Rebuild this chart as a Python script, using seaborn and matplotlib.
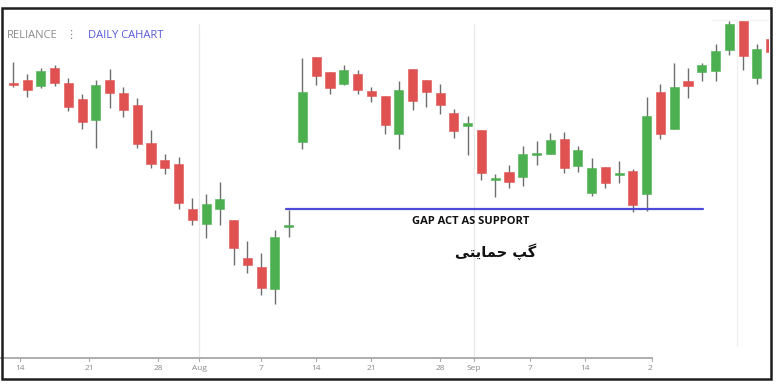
import numpy as np
import matplotlib
matplotlib.use("Agg")
import matplotlib.pyplot as plt
from matplotlib.patches import Rectangle
import seaborn as sns

# daily candles (price levels, arbitrary units)
opens = [317, 320, 314, 332, 317, 301, 280, 320, 307, 295,
         257, 240, 236, 191, 176, 191, 180, 142, 133, 111,
         173, 258, 343, 328, 316, 326, 309, 304, 266, 331,
         320, 307, 287, 274, 270, 220, 228, 223, 245, 246,
         261, 234, 207, 233, 225, 229, 206, 308, 271, 319,
         328, 329, 350, 379, 322, 361]
highs = [338, 326, 332, 335, 322, 306, 320, 331, 313, 302,
         270, 246, 243, 202, 206, 218, 180, 159, 147, 170,
         190, 342, 343, 328, 335, 330, 313, 304, 319, 331,
         320, 316, 291, 284, 270, 226, 235, 254, 259, 267,
         268, 254, 242, 233, 239, 231, 303, 316, 337, 332,
         337, 356, 379, 379, 356, 361]
lows = [313, 303, 312, 314, 289, 271, 252, 292, 283, 252,
        232, 226, 191, 175, 162, 175, 135, 127, 105, 96,
        163, 251, 315, 306, 315, 306, 298, 266, 251, 290,
        293, 286, 262, 245, 220, 203, 212, 214, 235, 246,
        227, 228, 204, 212, 217, 188, 189, 261, 271, 302,
        319, 319, 345, 330, 316, 348]
closes = [315, 310, 329, 317, 293, 278, 315, 307, 290, 256,
          236, 232, 197, 180, 196, 201, 152, 135, 112, 163,
          174, 308, 324, 312, 330, 310, 304, 275, 310, 299,
          308, 295, 269, 277, 227, 221, 218, 246, 246, 260,
          232, 250, 232, 217, 227, 195, 284, 266, 313, 314,
          335, 349, 376, 344, 351, 348]

tick_pos = [0.49, 5.5, 10.51, 13.49, 17.99, 21.98, 25.98, 30.99, 33.46, 37.52, 41.52, 46.38]
tick_labels = ["14", "21", "28", "Aug", "7", "14", "21", "28", "Sep", "7", "14", "21"]
support_level = 191
support_span = (19.8, 50.1)

sns.set_theme(style="white")
plt.rcParams['font.family'] = ['Open Sans', 'DejaVu Sans']

GREEN = '#4caf50'
RED = '#e05252'

fig = plt.figure(figsize=(7.8, 3.89), dpi=100)
ax = fig.add_axes([0, 0, 769 / 780, 1])
ax.set_xlim(-0.966, 54.88)
ax.set_ylim(11, 400)
ax.axis('off')

# light grid lines at month starts
for xg in [13.49, 33.46]:
    ax.plot([xg, xg], [42, 376], color='#e8e8e8', lw=0.9, zorder=0)
ax.plot([52.56, 52.56], [50, 380], color='#f0f0f0', lw=0.9, zorder=0)
ax.plot([50.74, 55], [380, 380], color='#f3f3f3', lw=0.9, zorder=0)

x = np.arange(len(opens))
o = np.array(opens)
c = np.array(closes)
up = c >= o
colors = np.where(up, GREEN, RED)

# wicks
ax.vlines(x, lows, highs, color='#6e6e6e', lw=1.0, zorder=2)
# bodies
bottom = np.minimum(o, c)
height = np.maximum(np.abs(c - o), 1.6)
ax.bar(x, height, bottom=bottom, width=0.66, color=colors,
       edgecolor=colors, linewidth=0.4, zorder=3)

# support line
ax.plot(support_span, [support_level, support_level], color='#4b4bd8', lw=1.6, zorder=4)
ax.text(33.2, 179, "GAP ACT AS SUPPORT", ha='center', va='center',
        fontsize=8, fontweight='bold', color='#111111', zorder=5)
# Persian label "گپ حمایتی" shaped with presentation forms, visual order
fa_label = "\uFBFD\uFE98\uFBFE\uFE8E\uFEE4\uFEA3 \uFB57\uFB94"
ax.text(35.0, 148, fa_label, ha='center', va='center', fontsize=10.5,
        fontweight='bold', color='#111111', family=['DejaVu Sans'], zorder=5)

# x axis line and ticks
ax.plot([-0.97, 46.43], [42, 42], color='#a8a8a8', lw=1.3, zorder=1)
for tp, tl in zip(tick_pos, tick_labels):
    ax.plot([tp, tp], [39, 42], color='#a8a8a8', lw=0.8)
    ax.text(tp, 31, tl, ha='center', va='center', fontsize=6, color='#8a8a8a')

# the screenshot is cut off right after the last tick label
fig.add_artist(Rectangle((653 / 780, 14 / 389), 116 / 780, 28 / 389, transform=fig.transFigure,
                         facecolor='white', edgecolor='none', zorder=8))

# header
fig.text(7 / 780, 1 - 35 / 389, "RELIANCE", ha='left', va='center', fontsize=8, color='#8c8c8c')
fig.text(71 / 780, 1 - 35 / 389, "\u22ee", ha='center', va='center', fontsize=8, color='#8c8c8c',
         family=['DejaVu Sans'])
fig.text(88 / 780, 1 - 35 / 389, "DAILY CAHART", ha='left', va='center', fontsize=8, color='#5757d9')

# screenshot frame
fig.add_artist(Rectangle((2 / 780, 10 / 389), 769 / 780, 371 / 389, transform=fig.transFigure,
                         facecolor='none', edgecolor='#1e1e1e', lw=1.8, zorder=10))

fig.savefig('out.png', dpi=100)
